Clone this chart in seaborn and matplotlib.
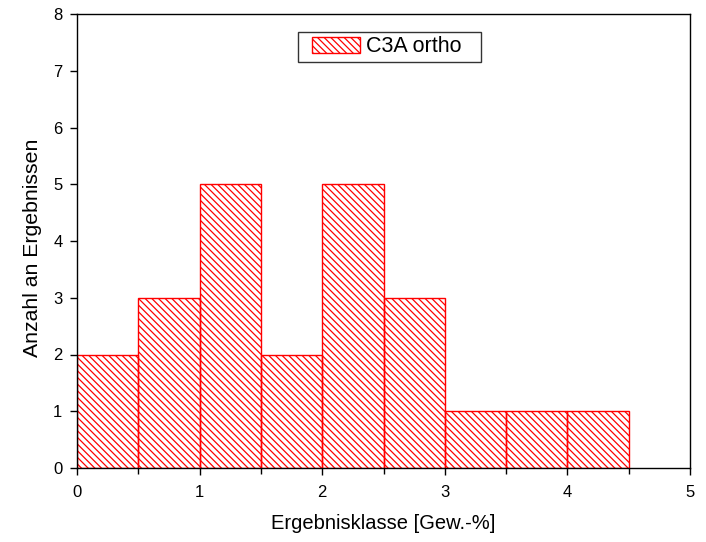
import matplotlib
matplotlib.use("Agg")
import matplotlib.pyplot as plt
import seaborn as sns
import numpy as np
from matplotlib.ticker import MultipleLocator
from matplotlib.legend_handler import HandlerPatch
from matplotlib.container import BarContainer
from matplotlib.patches import Rectangle

bin_edges = [0, 0.5, 1.0, 1.5, 2.0, 2.5, 3.0, 3.5, 4.0, 4.5]
counts = [2, 3, 5, 2, 5, 3, 1, 1, 1]
series_label = "C3A ortho"
x_label = "Ergebnisklasse [Gew.-%]"
y_label = "Anzahl an Ergebnissen"

sns.set_style("ticks")
plt.rcParams['font.family'] = ['Liberation Sans', 'DejaVu Sans']
plt.rcParams['hatch.color'] = 'red'
plt.rcParams['hatch.linewidth'] = 0.9
plt.rcParams['text.color'] = 'black'
plt.rcParams['axes.labelcolor'] = 'black'
plt.rcParams['xtick.color'] = 'black'
plt.rcParams['ytick.color'] = 'black'

HATCH = '\\' * 5

centers = [(a + b) / 2 for a, b in zip(bin_edges[:-1], bin_edges[1:])]

fig = plt.figure(figsize=(7.06, 5.42), dpi=100)
ax = fig.add_axes([77/706, 1-468/542, (690-77)/706, (468-14)/542])
sns.histplot(x=centers, weights=counts, bins=bin_edges, ax=ax,
             fill=False, edgecolor='red', linewidth=1.0, hatch=HATCH,
             label=series_label)
for p in ax.patches:
    p.set_hatch(HATCH)
    p.set_edgecolor('red')

ax.set_xlim(0, 5)
ax.set_ylim(0, 8)
ax.xaxis.set_major_locator(MultipleLocator(1))
ax.xaxis.set_minor_locator(MultipleLocator(0.5))
ax.yaxis.set_major_locator(MultipleLocator(1))
ax.tick_params(axis='both', which='major', direction='out', length=5, width=1,
               labelsize=12, colors='black', labelcolor='black')
ax.tick_params(axis='x', which='major', pad=7)
ax.tick_params(axis='y', which='major', pad=5.5)
ax.tick_params(axis='x', which='minor', direction='out', length=4, width=1)
for s in ax.spines.values():
    s.set_visible(True)
    s.set_linewidth(1.0)
    s.set_color('black')
ax.set_xlabel(x_label, fontsize=14.5, labelpad=10, color='black')
ax.set_ylabel(y_label, fontsize=15.3, color='black')
ax.yaxis.set_label_coords((42 - 77) / 613, 1 - (248 - 14) / 454)


def _first_child(tgt, src):
    ch = next(iter(src.get_children()), None)
    if ch is not None:
        tgt.update_from(ch)


fs = 15.5
fs_px = fs * 100 / 72
xpad = 10 / fs_px
hp = HandlerPatch(xpad=xpad, update_func=_first_child)
leg = ax.legend(loc='upper left',
                bbox_to_anchor=((298 - 77) / 613, (468 - 32) / 454, (481 - 298) / 613, 0.0),
                mode='expand', frameon=True,
                fancybox=False, edgecolor='black', fontsize=fs,
                handlelength=(48 + 10) / fs_px, handleheight=0.8,
                borderpad=0.2, handletextpad=0.25, borderaxespad=0.0,
                handler_map={BarContainer: hp, Rectangle: hp})
leg.get_frame().set_linewidth(1.0)
for t in leg.get_texts():
    t.set_color('black')
fig.savefig("out.png", dpi=100)
